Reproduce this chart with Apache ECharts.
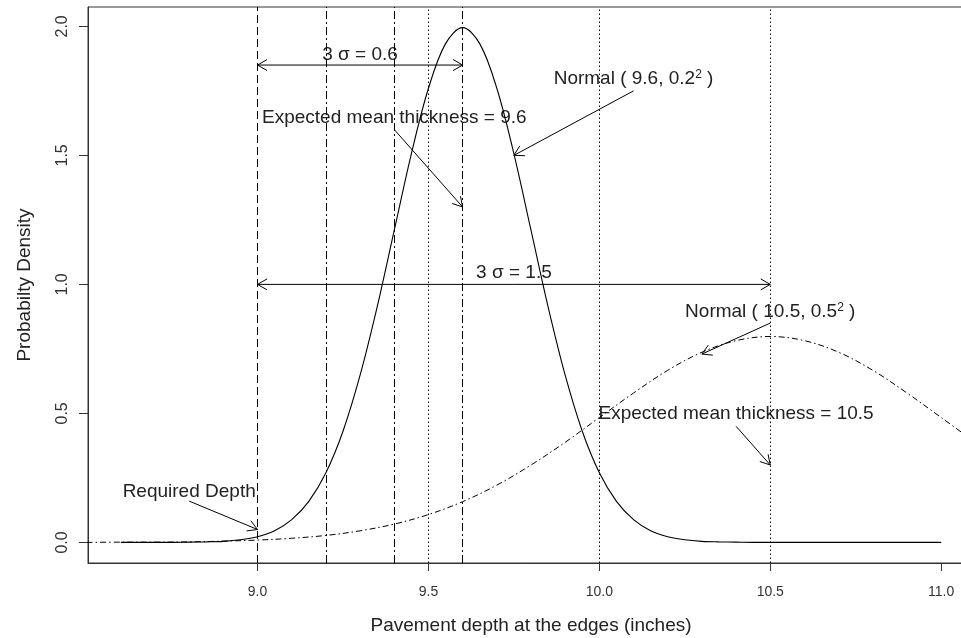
<!DOCTYPE html>
<html><head><meta charset="utf-8">
<script src="https://cdn.jsdelivr.net/npm/echarts@6/dist/echarts.min.js"></script>
<style>html,body{margin:0;padding:0;background:#fff}#c{width:961px;height:638px}</style>
</head><body><div id="c"></div>
<script>
// Normal(9.6, 0.2^2) density
const narrowX = [8.60,8.65,8.70,8.75,8.80,8.85,8.90,8.95,9.00,9.05,9.10,9.15,9.20,9.25,9.30,9.35,9.40,9.45,9.50,9.55,9.60,9.65,9.70,9.75,9.80,9.85,9.90,9.95,10.00,10.05,10.10,10.15,10.20,10.25,10.30,10.35,10.40,10.45,10.50,10.60,10.70,10.80,10.90,11.00];
const narrowDensity = [0.000,0.000,0.000,0.000,0.001,0.002,0.004,0.010,0.022,0.045,0.088,0.159,0.270,0.431,0.648,0.913,1.210,1.506,1.760,1.933,1.995,1.933,1.760,1.506,1.210,0.913,0.648,0.431,0.270,0.159,0.088,0.045,0.022,0.010,0.004,0.002,0.001,0.000,0.000,0.000,0.000,0.000,0.000,0.000];
// Normal(10.5, 0.5^2) density
const wideX = [8.5,8.6,8.7,8.8,8.9,9.0,9.1,9.2,9.3,9.4,9.5,9.6,9.7,9.8,9.9,10.0,10.1,10.2,10.3,10.4,10.5,10.6,10.7,10.8,10.9,11.0,11.1];
const wideDensity = [0.000,0.001,0.001,0.002,0.005,0.009,0.016,0.027,0.045,0.071,0.108,0.158,0.222,0.300,0.388,0.484,0.579,0.667,0.737,0.782,0.798,0.782,0.737,0.667,0.579,0.484,0.388];

const xTicks = [9.0, 9.5, 10.0, 10.5, 11.0];
const yTicks = [0.0, 0.5, 1.0, 1.5, 2.0];
const xRange = [8.504, 11.096];
const yRange = [-0.0798, 2.075];

const dashedLines = [9.0];
const dotDashLines = [9.2, 9.4, 9.6];
const dottedLines = [9.5, 10.0, 10.5];

// arrows: from x, from y, to x, to y, double-headed (1) or not (0)
const arrowFromX = [9.0, 9.0, 10.1, 9.4, 10.5, 10.4, 8.8];
const arrowFromY = [1.85, 1.0, 1.75, 1.6, 0.85, 0.45, 0.16];
const arrowToX   = [9.6, 10.5, 9.75, 9.6, 10.3, 10.5, 9.0];
const arrowToY   = [1.85, 1.0, 1.5, 1.3, 0.73, 0.30, 0.05];
const arrowBoth  = [1, 1, 0, 0, 0, 0, 0];

const labelTexts = ['3 σ = 0.6', '3 σ = 1.5', 'Expected mean thickness = 9.6', '{t|Normal ( 9.6, 0.2}{s|2}{t| )}', '{t|Normal ( 10.5, 0.5}{s|2}{t| )}', 'Expected mean thickness = 10.5', 'Required Depth'];
const labelX = [9.3, 9.75, 9.4, 10.1, 10.5, 10.4, 8.8];
const labelY = [1.89, 1.045, 1.645, 1.795, 0.892, 0.50, 0.198];

const FONT = 'Liberation Sans, Arial, sans-serif';
const INK = '#222';

const chart = echarts.init(document.getElementById('c'), null, {renderer: 'canvas'});

function head(tip, from, L) {
  const a = Math.atan2(tip[1] - from[1], tip[0] - from[0]);
  const d = Math.PI / 6;
  return {
    type: 'polyline',
    shape: {points: [
      [tip[0] - L * Math.cos(a - d), tip[1] - L * Math.sin(a - d)],
      [tip[0], tip[1]],
      [tip[0] - L * Math.cos(a + d), tip[1] - L * Math.sin(a + d)]
    ]},
    style: {stroke: '#000', lineWidth: 1, fill: null}
  };
}

const arrowData = arrowFromX.map((v, i) => [v, arrowFromY[i], arrowToX[i], arrowToY[i], arrowBoth[i]]);
const labelData = labelX.map((v, i) => [v, labelY[i], i]);

const markData = []
  .concat(dashedLines.map(v => ({xAxis: v, lineStyle: {type: [8, 4]}})))
  .concat(dotDashLines.map(v => ({xAxis: v, lineStyle: {type: [8, 3, 2, 3]}})))
  .concat(dottedLines.map(v => ({xAxis: v, lineStyle: {type: [1.5, 2.5]}})));

chart.setOption({
  animation: false,
  backgroundColor: '#fff',
  grid: {left: 88, top: 7, width: 886, height: 556, outerBoundsMode: 'none', containLabel: false,
    show: true, borderColor: '#333', borderWidth: 1, backgroundColor: 'transparent'},
  xAxis: {
    type: 'value', min: xRange[0], max: xRange[1],
    splitLine: {show: false},
    axisLine: {show: true, onZero: false, lineStyle: {color: '#333', width: 1}},
    axisTick: {show: true, inside: false, length: 8, customValues: xTicks, lineStyle: {color: '#333'}},
    axisLabel: {customValues: xTicks, formatter: v => Number(v).toFixed(1), fontSize: 14, margin: 22, color: '#333', fontFamily: FONT},
    name: 'Pavement depth at the edges (inches)', nameLocation: 'middle', nameGap: 53,
    nameTextStyle: {fontSize: 19, color: INK, fontFamily: FONT}
  },
  yAxis: {
    type: 'value', min: yRange[0], max: yRange[1],
    splitLine: {show: false},
    axisLine: {show: true, onZero: false, lineStyle: {color: '#333', width: 1}},
    axisTick: {show: true, inside: false, length: 9, customValues: yTicks, lineStyle: {color: '#333'}},
    axisLabel: {customValues: yTicks, formatter: v => Number(v).toFixed(1), rotate: 90, fontSize: 16, margin: 17, color: '#333', fontFamily: FONT},
    name: 'Probabilty Density', nameLocation: 'middle', nameGap: 54, nameRotate: 90,
    nameTextStyle: {fontSize: 19, color: INK, fontFamily: FONT}
  },
  series: [
    {
      type: 'line', data: narrowX.map((v, i) => [v, narrowDensity[i]]),
      smooth: 0.35, showSymbol: false, symbol: 'none',
      lineStyle: {color: '#000', width: 1.1},
      markLine: {silent: true, symbol: ['none', 'none'], label: {show: false}, animation: false,
        lineStyle: {color: '#000', width: 1}, data: markData}
    },
    {
      type: 'line', data: wideX.map((v, i) => [v, wideDensity[i]]),
      smooth: 0.35, showSymbol: false, symbol: 'none',
      lineStyle: {color: '#000', width: 1, type: [6, 3, 1.5, 3]}
    },
    {
      type: 'custom', data: arrowData, encode: {x: [0, 2], y: [1, 3]},
      renderItem: function (params, api) {
        const p0 = api.coord([api.value(0), api.value(1)]);
        const p1 = api.coord([api.value(2), api.value(3)]);
        const children = [
          {type: 'line', shape: {x1: p0[0], y1: p0[1], x2: p1[0], y2: p1[1]}, style: {stroke: '#000', lineWidth: 1}},
          head(p1, p0, 11)
        ];
        if (api.value(4)) children.push(head(p0, p1, 11));
        return {type: 'group', children: children};
      }
    },
    {
      type: 'custom', data: labelData, encode: {x: 0, y: 1},
      renderItem: function (params, api) {
        const p = api.coord([api.value(0), api.value(1)]);
        const txt = labelTexts[api.value(2)];
        return {
          type: 'text', x: p[0], y: p[1],
          style: {
            text: txt, fill: INK, fontSize: 19, fontFamily: FONT,
            align: 'center', verticalAlign: 'middle',
            rich: {
              t: {fontSize: 19, fill: INK, fontFamily: FONT, lineHeight: 22},
              s: {fontSize: 12, fill: INK, fontFamily: FONT, lineHeight: 12, verticalAlign: 'top'}
            }
          }
        };
      }
    }
  ]
});
</script>
</body></html>
